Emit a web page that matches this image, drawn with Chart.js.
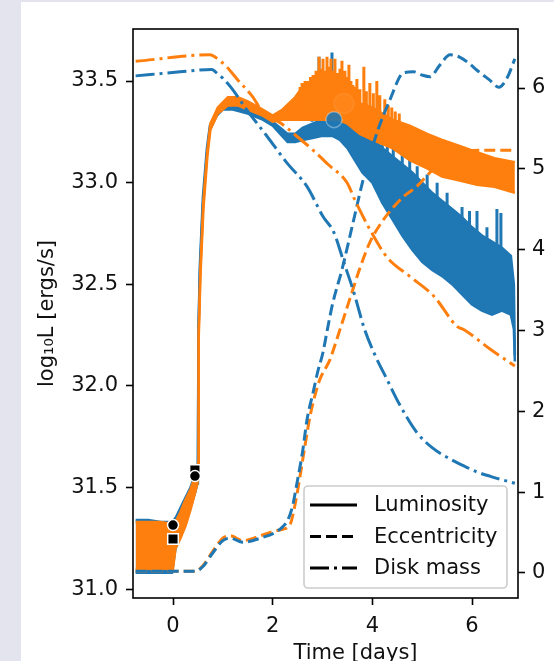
<!DOCTYPE html>
<html>
<head>
<meta charset="utf-8">
<script src="https://cdn.jsdelivr.net/npm/chart.js@4.4.0/dist/chart.umd.min.js"></script>
<style>
  html, body { margin: 0; padding: 0; background: #e4e4ee; overflow: hidden; }
  #paper { position: absolute; left: 21px; top: 2px; width: 533px; height: 659px; background: #fff; }
  #chart { position: absolute; left: 0; top: 0; }
</style>
</head>
<body>
<div id="paper"></div>
<canvas id="chart" width="554" height="661"></canvas>
<script>
// ── Luminosity bands (log10 L, left axis) ──
const blueLumT    = [-0.75, -0.5, -0.25, -0.02, 0.05, 0.15, 0.25, 0.35, 0.45, 0.49, 0.50, 0.51, 0.54, 0.60, 0.68, 0.74, 0.88, 1.0, 1.2, 1.5, 1.8, 2.0, 2.15, 2.3, 2.45, 2.6, 2.8, 3.0, 3.2, 3.35, 3.5, 3.65, 3.8, 4.0, 4.2, 4.4, 4.6, 4.8, 5.0, 5.2, 5.4, 5.6, 5.8, 6.0, 6.2, 6.4, 6.6, 6.78, 6.84, 6.86]
const blueLumHigh = [31.34, 31.34, 31.33, 31.33, 31.35, 31.40, 31.45, 31.50, 31.57, 31.61, 31.64, 32.28, 32.60, 32.93, 33.17, 33.28, 33.35, 33.38, 33.38, 33.36, 33.33, 33.30, 33.27, 33.24, 33.24, 33.27, 33.29, 33.31, 33.33, 33.34, 33.33, 33.31, 33.27, 33.22, 33.17, 33.13, 33.09, 33.05, 33.00, 32.95, 32.91, 32.87, 32.83, 32.78, 32.74, 32.71, 32.68, 32.64, 32.50, 32.15]
const blueLumLow  = [31.08, 31.08, 31.08, 31.08, 31.20, 31.26, 31.32, 31.40, 31.48, 31.52, 31.58, 32.24, 32.56, 32.89, 33.14, 33.26, 33.33, 33.36, 33.36, 33.34, 33.31, 33.28, 33.24, 33.20, 33.20, 33.21, 33.22, 33.23, 33.23, 33.21, 33.17, 33.11, 33.05, 33.00, 32.90, 32.82, 32.74, 32.67, 32.61, 32.57, 32.54, 32.50, 32.45, 32.40, 32.37, 32.35, 32.37, 32.35, 32.28, 32.12]

const orangeLumT    = [-0.75, -0.5, -0.25, 0.0, 0.05, 0.15, 0.25, 0.35, 0.45, 0.49, 0.505, 0.515, 0.55, 0.61, 0.69, 0.75, 0.9, 1.1, 1.3, 1.5, 1.8, 2.0, 2.2, 2.45, 2.6, 2.9, 3.1, 3.3, 3.5, 3.75, 4.0, 4.4, 4.75, 5.1, 5.4, 5.75, 6.1, 6.45, 6.86]
const orangeLumHigh = [31.33, 31.33, 31.33, 31.32, 31.33, 31.38, 31.44, 31.49, 31.56, 31.59, 31.62, 32.27, 32.58, 32.91, 33.16, 33.29, 33.37, 33.42, 33.42, 33.40, 33.36, 33.33, 33.36, 33.42, 33.47, 33.50, 33.49, 33.46, 33.42, 33.39, 33.37, 33.31, 33.28, 33.24, 33.21, 33.18, 33.15, 33.12, 33.10]
const orangeLumLow  = [31.10, 31.10, 31.10, 31.10, 31.20, 31.25, 31.31, 31.39, 31.48, 31.52, 31.58, 32.23, 32.54, 32.87, 33.13, 33.26, 33.34, 33.38, 33.38, 33.36, 33.33, 33.30, 33.31, 33.31, 33.31, 33.31, 33.31, 33.31, 33.29, 33.24, 33.21, 33.17, 33.11, 33.07, 33.03, 33.01, 32.99, 32.98, 32.95]

// ── Luminosity spikes ──
const orangeSpikeT    = [2.40, 2.47, 2.55, 2.59, 2.65, 2.71, 2.76, 2.81, 2.87, 2.93, 2.97, 3.01, 3.05, 3.09, 3.13, 3.17, 3.21, 3.25, 3.30, 3.35, 3.39, 3.45, 3.49, 3.53, 3.57, 3.61, 3.65, 3.69, 3.75, 3.83, 3.88, 3.95, 4.02, 4.09, 4.15, 4.25, 4.32, 4.39, 4.46, 4.54]
const orangeSpikeTop  = [33.39, 33.41, 33.47, 33.49, 33.50, 33.50, 33.52, 33.53, 33.55, 33.62, 33.56, 33.61, 33.55, 33.62, 33.57, 33.61, 33.55, 33.61, 33.54, 33.56, 33.60, 33.55, 33.52, 33.58, 33.50, 33.48, 33.47, 33.51, 33.46, 33.57, 33.45, 33.49, 33.44, 33.50, 33.43, 33.41, 33.38, 33.37, 33.35, 33.34]
const orangeSpikeBase = [33.33, 33.33, 33.33, 33.33, 33.33, 33.33, 33.33, 33.33, 33.33, 33.33, 33.33, 33.33, 33.33, 33.33, 33.33, 33.33, 33.33, 33.33, 33.33, 33.33, 33.33, 33.33, 33.31, 33.30, 33.29, 33.28, 33.27, 33.26, 33.25, 33.24, 33.23, 33.23, 33.22, 33.21, 33.21, 33.20, 33.19, 33.18, 33.17, 33.16]

const blueSpikeT    = [2.79, 2.93, 3.19, 4.05, 4.20, 4.30, 4.42, 4.60, 4.75, 4.90, 5.10, 5.30, 5.50, 5.80, 5.95, 6.10, 6.30, 6.50, 6.58]
const blueSpikeTop  = [33.50, 33.62, 33.64, 33.28, 33.22, 33.19, 33.17, 33.17, 33.12, 33.08, 33.04, 33.00, 32.95, 32.88, 32.86, 32.86, 32.78, 32.87, 32.85]
const blueSpikeBase = [33.30, 33.30, 33.30, 33.18, 33.14, 33.12, 33.10, 33.06, 33.03, 33.00, 32.96, 32.92, 32.88, 32.80, 32.77, 32.75, 32.71, 32.68, 32.67]

// ── Eccentricity (right axis) ──
const blueEccT   = [-0.75, 0.45, 0.6, 0.8, 1.0, 1.15, 1.4, 1.8, 2.05, 2.2, 2.3, 2.4, 2.49, 2.6, 2.69, 2.81, 2.9, 3.01, 3.1, 3.21, 3.39, 3.6, 3.83, 4.09, 4.35, 4.63, 4.83, 5.0, 5.16, 5.35, 5.56, 5.76, 5.95, 6.10, 6.35, 6.54, 6.7, 6.86]
const blueEcc    = [0.02, 0.02, 0.08, 0.25, 0.40, 0.43, 0.38, 0.44, 0.50, 0.57, 0.65, 0.83, 1.12, 1.50, 1.90, 2.23, 2.48, 2.73, 3.02, 3.35, 3.75, 4.30, 4.90, 5.44, 5.85, 6.19, 6.20, 6.16, 6.14, 6.28, 6.41, 6.38, 6.30, 6.22, 6.10, 6.01, 6.12, 6.36]
const orangeEccT = [-0.75, 0.45, 0.6, 0.8, 1.0, 1.15, 1.4, 1.8, 2.05, 2.2, 2.35, 2.45, 2.55, 2.65, 2.75, 2.85, 2.95, 3.05, 3.15, 3.25, 3.35, 3.47, 3.59, 3.75, 3.95, 4.2, 4.43, 4.65, 4.89, 5.15, 5.44, 5.84, 6.24, 6.86]
const orangeEcc  = [0.02, 0.02, 0.09, 0.27, 0.43, 0.46, 0.40, 0.47, 0.52, 0.54, 0.60, 0.85, 1.20, 1.58, 1.94, 2.20, 2.40, 2.52, 2.64, 2.82, 3.01, 3.24, 3.47, 3.77, 4.09, 4.35, 4.53, 4.67, 4.78, 4.95, 5.11, 5.21, 5.23, 5.23]

// ── Disk mass (right axis) ──
const blueDiskT   = [-0.75, 0.14, 0.78, 0.85, 1.0, 1.16, 1.48, 1.89, 2.29, 2.69, 3.01, 3.23, 3.43, 3.63, 3.83, 4.05, 4.29, 4.55, 4.89, 5.2, 5.56, 5.85, 6.10, 6.45, 6.86]
const blueDisk    = [6.15, 6.20, 6.23, 6.20, 6.12, 6.01, 5.73, 5.40, 5.07, 4.78, 4.41, 4.21, 3.84, 3.47, 3.04, 2.70, 2.40, 2.08, 1.74, 1.55, 1.41, 1.32, 1.25, 1.18, 1.11]
const orangeDiskT = [-0.75, 0.74, 0.85, 1.08, 1.3, 1.6, 1.81, 2.15, 2.49, 2.81, 3.12, 3.49, 3.66, 3.95, 4.29, 4.75, 5.24, 5.70, 5.84, 6.36, 6.86]
const orangeDisk  = [6.33, 6.41, 6.38, 6.26, 6.10, 5.89, 5.69, 5.57, 5.40, 5.23, 5.05, 4.83, 4.60, 4.25, 3.91, 3.67, 3.42, 3.05, 3.01, 2.77, 2.56]

// ── Marked epochs ──
const blackCircleT = [0.0, 0.44]
const blackCircleL = [31.315, 31.556]
const blackSquareT = [0.0, 0.44]
const blackSquareL = [31.246, 31.586]
const blueMarkT = [3.23], blueMarkL = [33.31]
const orangeMarkT = [3.43], orangeMarkL = [33.39]

// ── Axes ──
const xTicks = [0, 2, 4, 6]
const lumTicks = [31.0, 31.5, 32.0, 32.5, 33.0, 33.5]
const rightTicks = [0, 1, 2, 3, 4, 5, 6]
const xTitle = 'Time [days]'
const legendLabels = ['Luminosity', 'Eccentricity', 'Disk mass']

const BLUE   = '#1f77b4'
const ORANGE = '#ff7f0e'
const INK    = '#111111'
const FONT   = "21px 'DejaVu Sans'"
const DASH    = [11, 5]
const DASHDOT = [19, 5, 3, 5]
const legendDash = [[], DASH, DASHDOT]

const pts = (ts, vs) => ts.map((t, i) => ({ x: t, y: vs[i] }))
const spikes = (ts, base, top) => ts.flatMap((t, i) => [{ x: t, y: base[i] }, { x: t, y: top[i] }, { x: t, y: null }])

Chart.defaults.font.family = "'DejaVu Sans', sans-serif"
Chart.defaults.font.size = 21
Chart.defaults.color = INK

const band = (data, color, fill, order) => ({
  data, borderColor: color, backgroundColor: color, borderWidth: 2.5,
  pointRadius: 0, tension: 0, fill, order, yAxisID: 'y'
})
const curve = (data, color, dash, order) => ({
  data, borderColor: color, borderWidth: 3, borderDash: dash, borderCapStyle: 'butt',
  pointRadius: 0, cubicInterpolationMode: 'monotone', fill: false, order, yAxisID: 'y1'
})
const marks = (data, style, radius, fillColor, edge, order) => ({
  data, showLine: false, pointStyle: style, pointRadius: radius,
  pointBackgroundColor: fillColor, pointBorderColor: edge, pointBorderWidth: 1.5,
  order, yAxisID: 'y'
})
const spikeSet = (data, color, order) => ({
  data, borderColor: color, borderWidth: 3, pointRadius: 0, spanGaps: false,
  fill: false, order, yAxisID: 'y'
})

// ── Frame around plot area + x axis title ──
const framePlugin = {
  id: 'frame',
  afterDatasetsDraw(chart) {
    const { ctx, chartArea: a } = chart
    ctx.save()
    ctx.strokeStyle = '#000'
    ctx.lineWidth = 1.6
    ctx.strokeRect(a.left, a.top, a.right - a.left, a.bottom - a.top)
    ctx.restore()
  },
  afterDraw(chart) {
    const { ctx, chartArea: a } = chart
    ctx.save()
    ctx.fillStyle = INK
    ctx.font = FONT
    ctx.textAlign = 'center'
    ctx.textBaseline = 'alphabetic'
    ctx.fillText(xTitle, (a.left + a.right) / 2 + 30, a.bottom + 61)
    ctx.restore()
  }
}

// ── Legend in lower right corner ──
const legendPlugin = {
  id: 'boxLegend',
  afterDraw(chart) {
    const { ctx, chartArea: a } = chart
    const w = 203, h = 102
    const x0 = a.right - 11 - w, y0 = a.bottom - 10 - h
    ctx.save()
    ctx.beginPath()
    ctx.roundRect(x0, y0, w, h, 4)
    ctx.fillStyle = 'rgba(255,255,255,0.8)'
    ctx.fill()
    ctx.strokeStyle = '#cccccc'
    ctx.lineWidth = 1.6
    ctx.stroke()
    legendLabels.forEach((label, i) => {
      const y = y0 + 19 + i * 31.5
      ctx.setLineDash(legendDash[i])
      ctx.lineCap = 'butt'
      ctx.lineWidth = 3
      ctx.strokeStyle = '#000'
      ctx.beginPath()
      ctx.moveTo(x0 + 6, y)
      ctx.lineTo(x0 + 53, y)
      ctx.stroke()
      ctx.setLineDash([])
      ctx.fillStyle = INK
      ctx.font = FONT
      ctx.textBaseline = 'middle'
      ctx.fillText(label, x0 + 70, y + 1)
    })
    ctx.restore()
  }
}

const tickGrid = { display: true, drawOnChartArea: false, drawTicks: true, tickLength: 7, tickWidth: 1.6, tickColor: '#000' }

new Chart(document.getElementById('chart'), {
  type: 'line',
  data: {
    datasets: [
      marks(pts(blackSquareT, blackSquareL), 'rect', 7.5, '#000', '#fff', 1),
      marks(pts(blackCircleT, blackCircleL), 'circle', 5.5, '#000', '#fff', 0),
      marks(pts(blueMarkT, blueMarkL), 'circle', 8, 'rgba(31,119,180,0.9)', 'rgba(255,255,255,0.35)', 2),
      marks(pts(orangeMarkT, orangeMarkL), 'circle', 10, 'rgba(255,160,80,0.18)', 'rgba(255,255,255,0.08)', 2),
      curve(pts(blueDiskT, blueDisk), BLUE, DASHDOT, 3),
      curve(pts(orangeDiskT, orangeDisk), ORANGE, DASHDOT, 3),
      curve(pts(blueEccT, blueEcc), BLUE, DASH, 4),
      curve(pts(orangeEccT, orangeEcc), ORANGE, DASH, 4),
      spikeSet(spikes(orangeSpikeT, orangeSpikeBase, orangeSpikeTop), ORANGE, 5),
      band(pts(orangeLumT, orangeLumHigh), ORANGE, '+1', 6),
      band(pts(orangeLumT, orangeLumLow), ORANGE, false, 6),
      spikeSet(spikes(blueSpikeT, blueSpikeBase, blueSpikeTop), BLUE, 7),
      band(pts(blueLumT, blueLumHigh), BLUE, '+1', 8),
      band(pts(blueLumT, blueLumLow), BLUE, false, 8),
    ]
  },
  options: {
    responsive: false,
    animation: false,
    events: [],
    layout: { padding: { left: 31, right: 0, top: 29, bottom: 0 } },
    plugins: { legend: { display: false }, tooltip: { enabled: false } },
    scales: {
      x: {
        type: 'linear', min: -0.803, max: 6.923,
        afterBuildTicks: s => { s.ticks = xTicks.map(v => ({ value: v })) },
        afterFit: s => { s.height = 63 },
        ticks: { padding: 9, callback: v => String(v) },
        grid: tickGrid,
        border: { display: false }
      },
      y: {
        type: 'linear', position: 'left', min: 30.956, max: 33.756,
        afterBuildTicks: s => { s.ticks = lumTicks.map(v => ({ value: v })) },
        afterFit: s => { s.width = 102 },
        ticks: { padding: 8, callback: v => v.toFixed(1) },
        grid: tickGrid,
        border: { display: false },
        title: { display: true, text: 'log₁₀L [ergs/s]', padding: { top: 4, bottom: 4 } }
      },
      y1: {
        type: 'linear', position: 'right', min: -0.31, max: 6.73,
        afterBuildTicks: s => { s.ticks = rightTicks.map(v => ({ value: v })) },
        afterFit: s => { s.width = 36 },
        ticks: { padding: 7, callback: v => String(v) },
        grid: tickGrid,
        border: { display: false }
      }
    }
  },
  plugins: [framePlugin, legendPlugin]
})
</script>
</body>
</html>
